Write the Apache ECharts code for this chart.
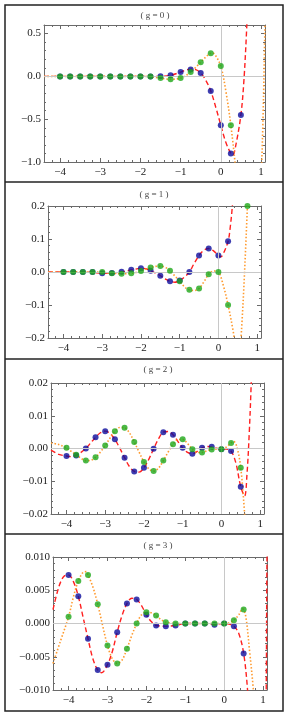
<!DOCTYPE html>
<html>
<head>
<meta charset="utf-8">
<script src="https://cdn.jsdelivr.net/npm/echarts@6/dist/echarts.min.js"></script>
<style>
html,body{margin:0;padding:0;background:#fff;}
#c{width:289px;height:720px;}
</style>
</head>
<body>
<div id="c"></div>
<script>
// ---------- data ----------
const panelTitles = ['( g = 0 )', '( g = 1 )', '( g = 2 )', '( g = 3 )'];
const dotX = [-4, -3.75, -3.5, -3.25, -3, -2.75, -2.5, -2.25, -2, -1.75, -1.5, -1.25, -1, -0.75, -0.5, -0.25, 0, 0.25, 0.5, 0.75];

const xTicks = [-4, -3, -2, -1, 0, 1];
const xTickLabels = ['−4', '−3', '−2', '−1', '0', '1'];

const yTicks0 = [-1.0, -0.5, 0, 0.5];
const yLabels0 = ['−1.0', '−0.5', '0.0', '0.5'];
const yTicks1 = [-0.2, -0.1, 0, 0.1, 0.2];
const yLabels1 = ['−0.2', '−0.1', '0.0', '0.1', '0.2'];
const yTicks2 = [-0.02, -0.01, 0, 0.01, 0.02];
const yLabels2 = ['−0.02', '−0.01', '0.00', '0.01', '0.02'];
const yTicks3 = [-0.01, -0.005, 0, 0.005, 0.01];
const yLabels3 = ['−0.010', '−0.005', '0.000', '0.005', '0.010'];

// panel g=0
const blue0 = [0, 0, 0, 0, 0, 0, 0, 0, 0, 0, 0.002, 0.012, 0.05, 0.08, 0.04, -0.17, -0.57, -0.9, -0.45, null];
const green0 = [0, 0, 0, 0, 0, 0, 0, 0, 0, 0, -0.02, -0.035, -0.02, 0.05, 0.165, 0.27, 0.12, -0.57, null, null];
const red0 = [[-4.4,0],[-4,0],[-3.5,0],[-3,0],[-2.5,0],[-2,0],[-1.75,0],[-1.5,0.001],[-1.25,0.012],[-1.0,0.05],[-0.875,0.072],[-0.75,0.085],[-0.625,0.078],[-0.5,0.04],[-0.375,-0.045],[-0.25,-0.17],[-0.125,-0.36],[0,-0.57],[0.125,-0.77],[0.25,-0.9],[0.3,-0.92],[0.375,-0.8],[0.5,-0.45],[0.575,-0.05],[0.65,0.62],[0.7,1.2]];
const orange0 = [[-4.4,0],[-4,0],[-3,0],[-2,0],[-1.75,-0.003],[-1.5,-0.02],[-1.25,-0.035],[-1.0,-0.02],[-0.875,0.01],[-0.75,0.05],[-0.625,0.105],[-0.5,0.165],[-0.375,0.225],[-0.25,0.27],[-0.2,0.272],[-0.125,0.24],[0,0.12],[0.125,-0.17],[0.25,-0.57],[0.375,-1.1],[0.5,-1.7],[0.7,-2.3],[0.9,-1.9],[1.0,-1.2],[1.05,-0.5],[1.1,0.6],[1.15,1.5]];

// panel g=1
const blue1 = [0, 0, 0, 0, -0.004, -0.003, 0.001, 0.007, 0.011, 0.004, -0.011, -0.028, -0.026, 0.0, 0.05, 0.071, 0.05, 0.093, null, null];
const green1 = [0, 0, 0, 0, 0.0, -0.004, -0.005, -0.004, 0.003, 0.014, 0.018, 0.004, -0.028, -0.054, -0.05, -0.007, 0.0, -0.1, null, 0.2];
const red1 = [[-4.4,0],[-4,0],[-3.5,0],[-3.25,-0.001],[-3,-0.004],[-2.75,-0.003],[-2.5,0.0],[-2.25,0.006],[-2.0,0.011],[-1.875,0.01],[-1.75,0.004],[-1.5,-0.011],[-1.375,-0.021],[-1.25,-0.028],[-1.125,-0.031],[-1.0,-0.026],[-0.875,-0.015],[-0.75,0.0],[-0.625,0.026],[-0.5,0.05],[-0.375,0.066],[-0.25,0.071],[-0.125,0.064],[0,0.05],[0.06,0.046],[0.125,0.055],[0.25,0.093],[0.3,0.13],[0.36,0.2],[0.45,0.36]];
const orange1 = [[-4.4,0],[-4,0],[-3.5,0],[-3.25,0.0],[-3,-0.001],[-2.75,-0.004],[-2.5,-0.005],[-2.25,-0.004],[-2,0.003],[-1.75,0.014],[-1.5,0.018],[-1.375,0.014],[-1.25,0.004],[-1.125,-0.012],[-1.0,-0.028],[-0.875,-0.045],[-0.75,-0.054],[-0.625,-0.056],[-0.5,-0.05],[-0.375,-0.03],[-0.25,-0.007],[-0.125,0.003],[0,0.0],[0.125,-0.04],[0.25,-0.1],[0.375,-0.175],[0.45,-0.23],[0.52,-0.25],[0.6,-0.17],[0.75,0.2],[0.85,0.5]];

// panel g=2
const blue2 = [-0.0023, -0.0021, 0.0, 0.0034, 0.0053, 0.0028, -0.0028, -0.007, -0.0059, -0.0001, 0.005, 0.0042, 0.0002, -0.0016, 0.0002, 0.0005, -0.0002, -0.0008, -0.0117, null];
const green2 = [0.0002, -0.0019, -0.0037, -0.0027, 0.0009, 0.0053, 0.0063, 0.002, -0.0041, -0.0069, -0.0037, 0.0013, 0.0028, -0.0002, -0.0012, -0.0003, -0.0002, 0.0017, -0.0059, null];
const red2 = [[-4.4,-0.0005],[-4.2,-0.0018],[-4,-0.0023],[-3.875,-0.0025],[-3.75,-0.0021],[-3.625,-0.0012],[-3.5,0.0],[-3.375,0.0017],[-3.25,0.0034],[-3.125,0.0048],[-3.0,0.0053],[-2.875,0.0046],[-2.75,0.0028],[-2.625,0.0001],[-2.5,-0.0028],[-2.375,-0.0055],[-2.25,-0.007],[-2.125,-0.0072],[-2.0,-0.0059],[-1.875,-0.0033],[-1.75,-0.0001],[-1.625,0.0029],[-1.5,0.005],[-1.375,0.0052],[-1.25,0.0042],[-1.125,0.0022],[-1.0,0.0002],[-0.875,-0.0012],[-0.75,-0.0016],[-0.625,-0.0009],[-0.5,0.0002],[-0.375,0.0006],[-0.25,0.0005],[-0.125,0.0001],[0,-0.0002],[0.125,-0.0002],[0.25,-0.0008],[0.375,-0.0045],[0.5,-0.0117],[0.6,-0.0145],[0.66,-0.008],[0.72,0.005],[0.77,0.02],[0.82,0.04]];
const orange2 = [[-4.4,0.0017],[-4.2,0.0012],[-4,0.0002],[-3.875,-0.0009],[-3.75,-0.0019],[-3.625,-0.003],[-3.5,-0.0037],[-3.375,-0.0036],[-3.25,-0.0027],[-3.125,-0.0011],[-3,0.0009],[-2.875,0.0032],[-2.75,0.0053],[-2.625,0.0064],[-2.5,0.0063],[-2.375,0.0048],[-2.25,0.002],[-2.125,-0.0011],[-2,-0.0041],[-1.875,-0.0062],[-1.75,-0.0069],[-1.625,-0.006],[-1.5,-0.0037],[-1.375,-0.0011],[-1.25,0.0013],[-1.125,0.0027],[-1,0.0028],[-0.875,0.0015],[-0.75,-0.0002],[-0.625,-0.0012],[-0.5,-0.0012],[-0.375,-0.0007],[-0.25,-0.0003],[-0.125,-0.0002],[0,-0.0002],[0.125,0.0004],[0.25,0.0017],[0.32,0.0021],[0.4,0.0005],[0.5,-0.0059],[0.6,-0.02],[0.65,-0.03]];

// panel g=3
const blue3 = [0.0073, 0.0041, -0.0023, -0.007, -0.0062, -0.0013, 0.003, 0.0036, 0.0013, -0.0003, -0.0004, -0.0003, 0, 0, 0, -0.0002, 0, -0.0004, -0.0045, null];
const green3 = [0.001, 0.0064, 0.0073, 0.0029, -0.0033, -0.006, -0.0038, 0.0, 0.0017, 0.0012, 0.0002, 0, 0, 0, 0, 0, 0, 0.0005, 0.0021, null];
const red3 = [[-4.4,0.0021],[-4.3,0.0045],[-4.2,0.0063],[-4.1,0.0072],[-4,0.0073],[-3.875,0.0063],[-3.75,0.0041],[-3.625,0.0009],[-3.5,-0.0023],[-3.375,-0.0053],[-3.25,-0.007],[-3.15,-0.0074],[-3,-0.0062],[-2.875,-0.0042],[-2.75,-0.0013],[-2.625,0.0012],[-2.5,0.003],[-2.375,0.0038],[-2.25,0.0036],[-2.125,0.0027],[-2,0.0013],[-1.875,0.0003],[-1.75,-0.0003],[-1.5,-0.0004],[-1.25,-0.0003],[-1,0],[-0.75,0],[-0.5,0],[-0.25,-0.0001],[0,0],[0.125,-0.0001],[0.25,-0.0004],[0.375,-0.0015],[0.5,-0.0045],[0.6,-0.01],[0.7,-0.02],[0.9,-0.035],[1.05,-0.02],[1.1,0.01],[1.15,0.04]];
const orange3 = [[-4.4,-0.006],[-4.2,-0.0025],[-4.0,0.001],[-3.875,0.004],[-3.75,0.0064],[-3.625,0.0077],[-3.55,0.0078],[-3.5,0.0073],[-3.375,0.0055],[-3.25,0.0029],[-3.125,-0.0003],[-3,-0.0033],[-2.875,-0.0053],[-2.75,-0.006],[-2.625,-0.0055],[-2.5,-0.0038],[-2.375,-0.0018],[-2.25,0.0],[-2.125,0.0013],[-2.0,0.0017],[-1.875,0.0016],[-1.75,0.0012],[-1.625,0.0006],[-1.5,0.0002],[-1.25,0],[-1,0],[-0.5,0],[0,0],[0.125,0.0001],[0.25,0.0005],[0.375,0.0013],[0.47,0.0022],[0.55,0.0012],[0.65,-0.004],[0.75,-0.01],[0.85,-0.018]];

// ---------- chart ----------
const FONT = "'Liberation Serif','Times New Roman',serif";
const FRAME = '#6a6a6a';
const C_BLUE = '#0c0c9c', C_GREEN = '#1ea81a', C_RED = '#ff2020', C_ORANGE = '#ff9a2e';

const grids = [
  {left: 44, top: 25, width: 221, height: 137},
  {left: 48, top: 206, width: 213, height: 132},
  {left: 51, top: 383, width: 213, height: 131},
  {left: 53, top: 557, width: 214, height: 133}
];
const yDefs = [
  {min: -1.0, max: 0.6, interval: 0.5, ticks: yTicks0, labels: yLabels0},
  {min: -0.2, max: 0.2, interval: 0.1, ticks: yTicks1, labels: yLabels1},
  {min: -0.02, max: 0.02, interval: 0.01, ticks: yTicks2, labels: yLabels2},
  {min: -0.01, max: 0.01, interval: 0.005, ticks: yTicks3, labels: yLabels3}
];
const blues = [blue0, blue1, blue2, blue3];
const greens = [green0, green1, green2, green3];
const reds = [red0, red1, red2, red3];
const oranges = [orange0, orange1, orange2, orange3];
const titleY = [16, 195, 370, 546];
const titleX = [155, 154, 158, 158];

function pickLabel(ticks, labels, v, eps) {
  for (let k = 0; k < ticks.length; k++) if (Math.abs(ticks[k] - v) < eps) return labels[k];
  return '';
}
function toPairs(ys) {
  const out = [];
  ys.forEach((y, k) => { if (y !== null) out.push([dotX[k], y]); });
  return out;
}

const xAxes = [], yAxes = [], series = [];
const tickStyle = {color: FRAME, width: 1};
grids.forEach((g, i) => {
  ['bottom', 'top'].forEach(pos => {
    xAxes.push({
      type: 'value', gridIndex: i, position: pos, min: -4.4, max: 1.1, splitNumber: 5,
      axisLine: {show: true, onZero: false, lineStyle: {color: FRAME, width: 1}},
      axisTick: {show: true, inside: true, length: 4, lineStyle: tickStyle},
      minorTick: {show: true, splitNumber: 5, length: 2, lineStyle: tickStyle},
      splitLine: {show: false},
      axisLabel: pos === 'bottom' ? {
        show: true, margin: 5, fontFamily: FONT, fontSize: 11, color: '#222',
        showMinLabel: true, showMaxLabel: true,
        formatter: v => pickLabel(xTicks, xTickLabels, v, 1e-6)
      } : {show: false}
    });
  });
  const yd = yDefs[i];
  ['left', 'right'].forEach(pos => {
    yAxes.push({
      type: 'value', gridIndex: i, position: pos, min: yd.min, max: yd.max, interval: yd.interval,
      axisLine: {show: true, onZero: false, lineStyle: {color: FRAME, width: 1}},
      axisTick: {show: true, inside: true, length: 4, lineStyle: tickStyle},
      minorTick: {show: true, splitNumber: 5, length: 2, lineStyle: tickStyle},
      splitLine: {show: false},
      axisLabel: pos === 'left' ? {
        show: true, margin: 3, fontFamily: FONT, fontSize: 11, color: '#222',
        formatter: v => pickLabel(yd.ticks, yd.labels, v, yd.interval * 1e-4)
      } : {show: false}
    });
  });
  const xi = i * 2, yi = i * 2;
  series.push({
    type: 'line', xAxisIndex: xi, yAxisIndex: yi, data: [], z: 1, silent: true,
    markLine: {
      silent: true, symbol: 'none', label: {show: false}, animation: false,
      lineStyle: {color: '#c8c8c8', width: 1, type: 'solid'},
      data: [{xAxis: 0}, {yAxis: 0}]
    }
  });
  series.push({
    type: 'line', xAxisIndex: xi, yAxisIndex: yi, data: reds[i], smooth: 0.35, symbol: 'none', z: 3,
    clip: true, lineStyle: {color: C_RED, width: 1.4, type: [5, 3]}
  });
  series.push({
    type: 'line', xAxisIndex: xi, yAxisIndex: yi, data: oranges[i], smooth: 0.35, symbol: 'none', z: 3,
    clip: true, lineStyle: {color: C_ORANGE, width: 1.6, type: [1.5, 2]}
  });
  series.push({
    type: 'scatter', xAxisIndex: xi, yAxisIndex: yi, data: toPairs(blues[i]), symbolSize: 6, z: 4,
    clip: true, itemStyle: {color: C_BLUE}
  });
  series.push({
    type: 'scatter', xAxisIndex: xi, yAxisIndex: yi, data: toPairs(greens[i]), symbolSize: 6, z: 5,
    clip: true, itemStyle: {color: C_GREEN}
  });
});

const graphics = [
  {type: 'rect', shape: {x: 5, y: 5, width: 278, height: 706}, style: {fill: 'none', stroke: '#222', lineWidth: 1.5}, z: 100},
  {type: 'line', shape: {x1: 5, y1: 182, x2: 283, y2: 182}, style: {stroke: '#222', lineWidth: 1.5}, z: 100},
  {type: 'line', shape: {x1: 5, y1: 359, x2: 283, y2: 359}, style: {stroke: '#222', lineWidth: 1.5}, z: 100},
  {type: 'line', shape: {x1: 5, y1: 534, x2: 283, y2: 534}, style: {stroke: '#222', lineWidth: 1.5}, z: 100}
];
panelTitles.forEach((t, i) => {
  graphics.push({type: 'text', x: titleX[i], y: titleY[i], style: {text: t, font: "9px " + FONT, fill: '#444', textAlign: 'center', textVerticalAlign: 'middle'}, z: 100});
});

const chart = echarts.init(document.getElementById('c'), null, {renderer: 'canvas'});
chart.setOption({
  animation: false,
  backgroundColor: '#fff',
  grid: grids,
  xAxis: xAxes,
  yAxis: yAxes,
  series: series,
  graphic: graphics
});
</script>
</body>
</html>
